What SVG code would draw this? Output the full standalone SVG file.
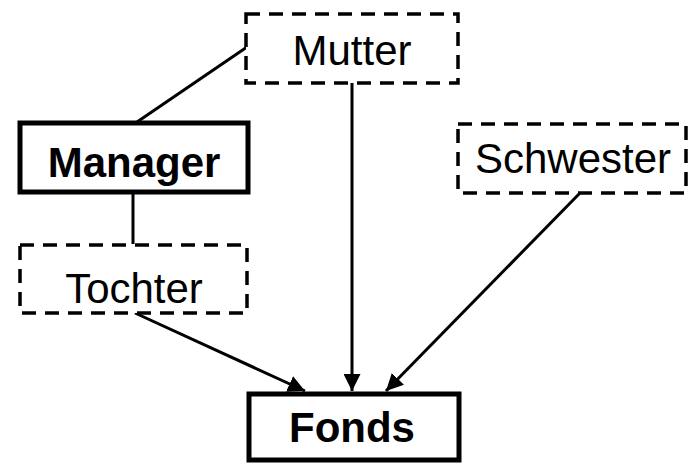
<svg xmlns="http://www.w3.org/2000/svg" width="689" height="463" viewBox="0 0 689 463">
<style>
.dash{fill:#fff;stroke:#000;stroke-width:3.5;stroke-dasharray:14 9}
.solid{fill:#fff;stroke:#000;stroke-width:5}
.t{font-family:"Liberation Sans",Arial,sans-serif;font-size:42px;text-anchor:middle;fill:#000}
.b{font-weight:bold}
.c{stroke:#000;stroke-width:3;fill:none}
</style>
<defs>
<marker id="ah" viewBox="0 0 10 10" refX="10" refY="5" markerWidth="17" markerHeight="17" markerUnits="userSpaceOnUse" orient="auto">
<path d="M0,0 L10,5 L0,10 z" fill="#000"/>
</marker>
</defs>
<g id="connectors">
<line class="c" x1="247" y1="47" x2="137" y2="122"/>
<line class="c" x1="133" y1="193" x2="133" y2="244"/>
<line class="c" x1="352" y1="83" x2="352" y2="391" marker-end="url(#ah)"/>
<line class="c" x1="135" y1="313" x2="305" y2="391" marker-end="url(#ah)"/>
<line class="c" x1="580" y1="193" x2="386" y2="391" marker-end="url(#ah)"/>
</g>
<g id="mutter"><rect class="dash" x="246" y="14" width="212" height="69"/><text class="t" x="352" y="65">Mutter</text></g>
<g id="manager"><rect class="solid" x="20" y="123" width="228" height="69"/><text class="t b" x="134" y="177">Manager</text></g>
<g id="tochter"><rect class="dash" x="20" y="245" width="227" height="68"/><text class="t" x="134" y="303">Tochter</text></g>
<g id="schwester"><rect class="dash" x="458" y="124" width="228" height="69"/><text class="t" x="573" y="173">Schwester</text></g>
<g id="fonds"><rect class="solid" x="249" y="394" width="210" height="66"/><text class="t b" x="352" y="442">Fonds</text></g>
</svg>
